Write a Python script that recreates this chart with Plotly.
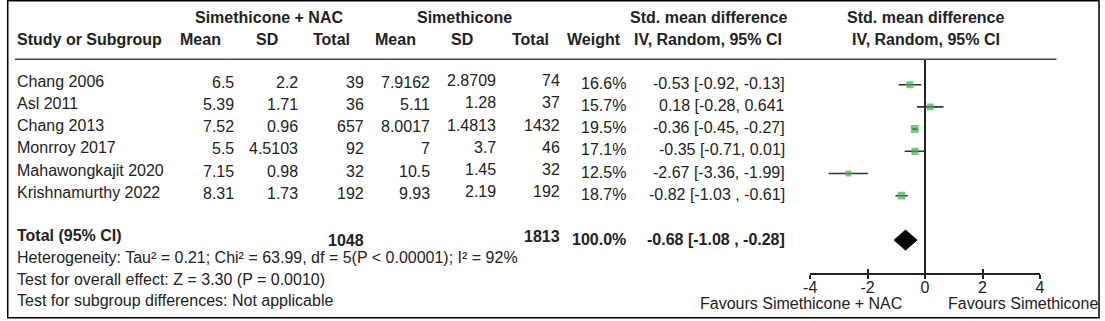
import plotly.graph_objects as go

# ---------------- data ----------------
studies = ["Chang 2006", "Asl 2011", "Chang 2013", "Monrroy 2017",
           "Mahawongkajit 2020", "Krishnamurthy 2022"]
nac_mean = [6.5, 5.39, 7.52, 5.5, 7.15, 8.31]
nac_sd = [2.2, 1.71, 0.96, 4.5103, 0.98, 1.73]
nac_total = [39, 36, 657, 92, 32, 192]
sim_mean = [7.9162, 5.11, 8.0017, 7, 10.5, 9.93]
sim_sd = [2.8709, 1.28, 1.4813, 3.7, 1.45, 2.19]
sim_total = [74, 37, 1432, 46, 32, 192]
weight = [16.6, 15.7, 19.5, 17.1, 12.5, 18.7]
smd = [-0.53, 0.18, -0.36, -0.35, -2.67, -0.82]
ci_low = [-0.92, -0.28, -0.45, -0.71, -3.36, -1.03]
ci_high = [-0.13, 0.64, -0.27, 0.01, -1.99, -0.61]
ci_text = ["-0.53 [-0.92, -0.13]", "0.18 [-0.28, 0.641", "-0.36 [-0.45, -0.27]",
           "-0.35 [-0.71, 0.01]", "-2.67 [-3.36, -1.99]", "-0.82 [-1.03 , -0.61]"]

total_label = "Total (95% CI)"
total_nac = 1048
total_sim = 1813
total_weight = 100.0
total_smd = -0.68
total_low = -1.08
total_high = -0.28
total_ci_text = "-0.68 [-1.08 , -0.28]"

footer_lines = [
    "Heterogeneity: Tau² = 0.21; Chi² = 63.99, df = 5(P < 0.00001); I² = 92%",
    "Test for overall effect: Z = 3.30 (P = 0.0010)",
    "Test for subgroup differences: Not applicable",
]

group_headers = ["Simethicone + NAC", "Simethicone", "Std. mean difference", "Std. mean difference"]
col_headers = ["Study or Subgroup", "Mean", "SD", "Total", "Mean", "SD", "Total", "Weight",
               "IV, Random, 95% CI", "IV, Random, 95% CI"]
x_ticks = [-4, -2, 0, 2, 4]
x_tick_labels = ["-4", "-2", "0", "2", "4"]
favours_left = "Favours Simethicone + NAC"
favours_right = "Favours Simethicone"

# ---------------- layout helpers ----------------
W, H = 1105, 321
FONT = "Liberation Sans, Arial, sans-serif"
TXT = "#222222"
GREEN = "#38b44a"


def px(x):
    return x / W


def py(y):
    return 1 - y / H


annotations = []


def text(s, x, y, anchor="left", bold=False, yref="paper", yshift=0):
    annotations.append(dict(
        text=f"<b>{s}</b>" if bold else s,
        x=px(x), xref="paper", xanchor=anchor,
        y=py(y) if yref == "paper" else y, yref=yref, yanchor="middle",
        yshift=yshift, showarrow=False, borderpad=0, borderwidth=0,
        font=dict(family=FONT, size=16, color=TXT),
    ))


fmt = lambda v: f"{v:g}"

# headers
for s, cx in zip(group_headers, [264.7, 462.5, 709.6, 928.6]):
    text(s, cx, 17.5, "center", bold=True)
header_x = [10, 195.3, 263.3, 327.8, 393.2, 459.8, 528.9, 593.7, 708.6, 928.6]
for i, (s, cx) in enumerate(zip(col_headers, header_x)):
    text(s, cx, 39.5, "left" if i == 0 else "center", bold=True)

# study rows (row index = y data value)
rows = list(range(len(studies)))
columns = [
    ([fmt(v) for v in nac_mean], 229, 2.4),
    ([fmt(v) for v in nac_sd], 294.3, 2.4),
    ([fmt(v) for v in nac_total], 360.7, 2.4),
    ([fmt(v) for v in sim_mean], 428, 2.4),
    ([fmt(v) for v in sim_sd], 494.6, 4.0),
    ([fmt(v) for v in sim_total], 559, 4.0),
    ([f"{v:.1f}%" for v in weight], 626, 1.4),
    (ci_text, 786.4, 1.4),
]
for r, name in zip(rows, studies):
    text(name, 10, r, "left", yref="y", yshift=3.5)
for vals, right, ys in columns:
    for r, v in zip(rows, vals):
        text(v, right, r, "right", yref="y", yshift=ys)

total_row = len(studies) + 1
text(total_label, 10, total_row, "left", bold=True, yref="y", yshift=4.2)
text(fmt(total_nac), 360.7, total_row, "right", bold=True, yref="y", yshift=-0.5)
text(fmt(total_sim), 559, total_row, "right", bold=True, yref="y", yshift=4.0)
text(f"{total_weight:.1f}%", 626, total_row, "right", bold=True, yref="y", yshift=1.0)
text(total_ci_text, 786.4, total_row, "right", bold=True, yref="y", yshift=1.0)

for s, yy in zip(footer_lines, [257.5, 279.2, 300.8]):
    text(s, 10, yy, "left")

text(favours_left, 905, 303.5, "right")
text(favours_right, 951, 303.5, "left")

# ---------------- traces ----------------
fig = go.Figure()
fig.add_trace(go.Scatter(
    x=smd, y=rows, mode="markers",
    marker=dict(symbol="square", color=GREEN, size=[2.5 + 0.28 * w for w in weight],
                line=dict(width=0)),
    error_x=dict(type="data", symmetric=False,
                 array=[h - s for h, s in zip(ci_high, smd)],
                 arrayminus=[s - l for s, l in zip(smd, ci_low)],
                 color="#333333", thickness=1.6, width=0),
    hoverinfo="skip", showlegend=False,
))
half = 0.45
fig.add_trace(go.Scatter(
    x=[total_low, total_smd, total_high, total_smd, total_low],
    y=[total_row, total_row - half, total_row, total_row + half, total_row],
    mode="lines", fill="toself", fillcolor="#000000",
    line=dict(color="#000000", width=1), hoverinfo="skip", showlegend=False,
))
# invisible trace to activate the overlay axis (upper half of crossing ticks)
fig.add_trace(go.Scatter(x=[0], y=[0], xaxis="x2", mode="markers",
                         marker=dict(opacity=0), hoverinfo="skip", showlegend=False))

xdom = [px(812), px(1044.3)]
y_top_px, y_bot_px = 58.5, 273.3
row0_px, row_dy = 84.7, 22.2
fig.update_layout(
    width=W, height=H, margin=dict(l=0, r=0, t=0, b=0),
    paper_bgcolor="white", plot_bgcolor="white",
    xaxis=dict(domain=xdom, range=[-4, 4], tickvals=x_ticks, ticktext=x_tick_labels,
               showline=True, linecolor=TXT, linewidth=1.5,
               ticks="outside", ticklen=4, tickwidth=1.5, tickcolor=TXT,
               ticklabelstandoff=-5,
               zeroline=True, zerolinecolor=TXT, zerolinewidth=1.5,
               showgrid=False, anchor="y", fixedrange=True,
               tickfont=dict(family=FONT, size=16, color=TXT)),
    xaxis2=dict(domain=xdom, matches="x", overlaying="x", anchor="y", side="bottom",
                tickvals=x_ticks, ticks="inside", ticklen=4, tickwidth=1.5, tickcolor=TXT,
                showticklabels=False, showline=False, showgrid=False, zeroline=False),
    yaxis=dict(domain=[py(y_bot_px), py(y_top_px)],
               range=[(y_bot_px - row0_px) / row_dy, (y_top_px - row0_px) / row_dy],
               visible=False, showgrid=False, zeroline=False, fixedrange=True),
    annotations=annotations,
    shapes=[
        dict(type="line", xref="paper", yref="paper", x0=px(8), x1=px(1061),
             y0=py(59.3), y1=py(59.3), line=dict(color="#444444", width=1.5)),
        dict(type="rect", xref="paper", yref="paper", x0=px(0.75), x1=px(1104),
             y0=py(0.75), y1=py(317.7), line=dict(color="#000000", width=1.5)),
    ],
)

fig.write_html("out.html")
